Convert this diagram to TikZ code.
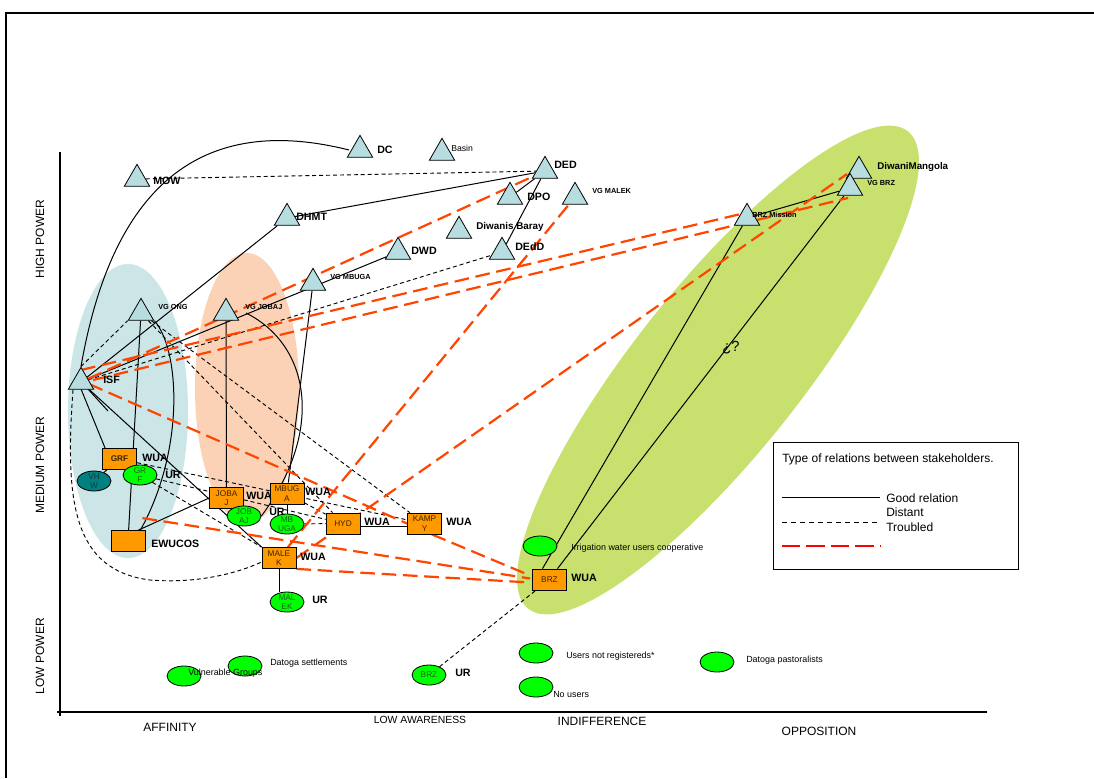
\documentclass[tikz,border=0pt]{standalone}
\usepackage{fontspec}
\setmainfont{Liberation Sans}
\usetikzlibrary{shapes.geometric,calc}
\pgfdeclarelayer{back}
\pgfdeclarelayer{lines}
\pgfsetlayers{back,lines,main}
\definecolor{tricol}{RGB}{183,221,224}
\definecolor{boxcol}{RGB}{255,153,0}
\definecolor{gcol}{RGB}{0,255,0}
\definecolor{tealcol}{RGB}{0,128,128}
\definecolor{redl}{RGB}{255,69,0}
\definecolor{bluebg}{RGB}{204,230,232}
\definecolor{orangebg}{RGB}{251,210,182}
\definecolor{greenbg}{RGB}{200,224,110}
\definecolor{boxtxt}{RGB}{60,35,0}
\definecolor{elltxt}{RGB}{30,95,30}
\begin{document}
\begin{tikzpicture}[x=0.75pt,y=-0.75pt,
  tri/.style={regular polygon, regular polygon sides=3, draw=black, line width=0.6pt, fill=tricol, inner sep=0pt, minimum size=22pt},
  good/.style={draw=black, line width=0.75pt},
  distant/.style={draw=black, line width=0.7pt, dash pattern=on 3pt off 2.2pt},
  troubled/.style={draw=redl, line width=1.65pt, dash pattern=on 11pt off 5pt},
  lbl/.style={font=\fontsize{8}{9.6}\selectfont\bfseries, anchor=west, inner sep=0pt},
  slbl/.style={font=\fontsize{5.5}{6.6}\selectfont\bfseries, anchor=west, inner sep=0pt},
  tlbl/.style={font=\fontsize{6.7}{8}\selectfont, anchor=west, inner sep=0pt},
  lglbl/.style={font=\fontsize{9}{10.8}\selectfont, anchor=west, inner sep=0pt},
  box/.style={rectangle, draw=black, line width=0.6pt, fill=boxcol, minimum width=25.5pt, minimum height=15.75pt, inner sep=0pt, font=\fontsize{6.2}{7}\selectfont, text=boxtxt, align=center},
  gell/.style={ellipse, draw=black, line width=0.6pt, fill=gcol, minimum width=25.5pt, minimum height=15pt, inner sep=0pt},
  etext/.style={font=\fontsize{6.2}{7}\selectfont, text=elltxt, align=center, inner sep=0pt},
  axl/.style={font=\fontsize{9}{10.8}\selectfont, inner sep=0pt}
]
\useasboundingbox (0,0) rectangle (1094,778);
\begin{pgfonlayer}{back}
\fill[white] (0,0) rectangle (1094,778);
\fill[bluebg] (128,411) ellipse [x radius=45pt, y radius=110.25pt];
\fill[orangebg] (247,388) ellipse [x radius=39pt, y radius=101.25pt];
\fill[greenbg, rotate around={51.5:(718,370)}] (718,370) ellipse [x radius=228.75pt, y radius=63pt];
\draw[line width=1.6pt] (6,778) -- (6,13) -- (1094,13);
\draw[line width=0.8pt] (60,152) -- (60,716);
\draw[line width=0.8pt] (57,712) -- (987,712);
\end{pgfonlayer}

% triangles
\node[tri] (MOW) at (137,179) {};
\node[tri] (DC) at (360,150) {};
\node[tri] (Basin) at (442,153) {};
\node[tri] (DED) at (545,171) {};
\node[tri] (DPO) at (510,197) {};
\node[tri] (VGMALEK) at (575,197) {};
\node[tri] (DHMT) at (287,218) {};
\node[tri] (DIWB) at (459,231) {};
\node[tri] (DWD) at (398,252) {};
\node[tri] (DEdD) at (502,252) {};
\node[tri] (VGMBUGA) at (313,283) {};
\node[tri] (VGONG) at (141,313) {};
\node[tri] (VGJOBAJ) at (226,313) {};
\node[tri] (ISF) at (81,382) {};
\node[tri] (DIWM) at (859,171) {};
\node[tri] (VGBRZ) at (850,188) {};
\node[tri] (BRZM) at (747,218) {};

% triangle labels
\node[lbl] (tMOW) at (153,181) {MOW};
\node[lbl] (tDC) at (377,150) {DC};
\node[tlbl, font=\fontsize{6.5}{7.8}\selectfont] (tBasin) at (451,148) {Basin};
\node[lbl] (tDED) at (554,165) {DED};
\node[lbl] (tDPO) at (527,197) {DPO};
\node[slbl] (tVGMALEK) at (592,191) {VG MALEK};
\node[lbl] (tDHMT) at (296,217) {DHMT};
\node[lbl, font=\fontsize{7.4}{8.8}\selectfont\bfseries] (tDIWB) at (476,227) {Diwanis Baray};
\node[lbl] (tDWD) at (411,251) {DWD};
\node[lbl] (tDEdD) at (515,247) {DEdD};
\node[slbl] (tVGMBUGA) at (330,277) {VG MBUGA};
\node[slbl] (tVGONG) at (158,307) {VG ONG};
\node[slbl] (tVGJOBAJ) at (245,307) {VG JOBAJ};
\node[lbl] (tISF) at (103,380) {ISF};
\node[lbl, font=\fontsize{7.3}{8.8}\selectfont\bfseries] (tDIWM) at (877,167) {DiwaniMangola};
\node[slbl] (tVGBRZ) at (867,183) {VG BRZ};
\node[slbl] (tBRZM) at (752,215) {BRZ Mission};

% boxes
\node[box, font=\fontsize{6.2}{7}\selectfont\bfseries] (GRF) at (119.5,459) {GRF};
\node[box] (EWUCOS) at (128,541) {};
\node[box] (JOBAJ) at (226.5,498) {JOBA\\J};
\node[box] (MBUGA) at (287,493.5) {MBUG\\A};
\node[box] (HYD) at (343,523.5) {HYD};
\node[box] (KAMPY) at (424.5,523.5) {KAMP\\Y};
\node[box] (MALEK) at (279,558) {MALE\\K};
\node[box] (BRZ) at (549.5,579.5) {BRZ};

% ellipses
\node[gell, fill=tealcol] (VHW) at (94,481) {};
\node[etext, text={rgb,255:red,15;green,60;blue,60}] (tVHW) at (VHW) {VH\\W};
\node[gell] (GRFe) at (140,475) {};
\node[etext] (tGRFe) at (GRFe) {GR\\F};
\node[gell] (JOBAJe) at (244,516) {};
\node[etext] (tJOBAJe) at (JOBAJe) {JOB\\AJ};
\node[gell] (MBUGAe) at (287,524) {};
\node[etext] (tMBUGAe) at (MBUGAe) {MB\\UGA};
\node[gell] (MALEKe) at (287,602) {};
\node[etext] (tMALEKe) at (MALEKe) {MAL\\EK};
\node[gell] (IRR) at (540,546) {};
\node[gell] (UNR) at (536,653) {};
\node[gell] (NOU) at (536,687) {};
\node[gell] (DATP) at (717,662) {};
\node[gell] (VULN) at (184,676) {};
\node[gell] (DATS) at (245,666) {};
\node[gell] (BRZe) at (429,675) {};
\node[etext] (tBRZe) at (BRZe) {BRZ};

% labels near boxes / ellipses
\node[lbl] (wGRF) at (142,458) {WUA};
\node[lbl] (uGRF) at (165,475) {UR};
\node[lbl] (tEWUCOS) at (151,544) {EWUCOS};
\node[lbl] (wJOBAJ) at (246,496) {WUA};
\node[lbl] (uJOBAJ) at (269,512) {UR};
\node[lbl] (wMBUGA) at (305,492) {WUA};
\node[lbl] (wHYD) at (364,522) {WUA};
\node[lbl] (wKAMPY) at (446,522) {WUA};
\node[lbl] (wMALEK) at (300,557) {WUA};
\node[lbl] (uMALEK) at (312,600) {UR};
\node[lbl] (wBRZ) at (571,578) {WUA};
\node[lbl] (uBRZ) at (455,673) {UR};
\node[tlbl] (tIRR) at (571,548) {Irrigation water users cooperative};
\node[tlbl] (tUNR) at (566,656) {Users not registereds*};
\node[tlbl] (tNOU) at (553,694) {No users};
\node[tlbl] (tDATP) at (746,660) {Datoga pastoralists};
\node[tlbl] (tVULN) at (188,673) {Vulnerable Groups};
\node[tlbl] (tDATS) at (270,663) {Datoga settlements};
\node[font=\fontsize{11}{13}\selectfont, inner sep=0pt] (qm) at (731,348) {¿?};

% axis labels
\node[axl, rotate=90] (hp) at (40,239) {HIGH POWER};
\node[axl, rotate=90] (mp) at (40,465) {MEDIUM POWER};
\node[axl, rotate=90] (lp) at (40,656) {LOW POWER};
\node[axl] (aff) at (170,727) {AFFINITY};
\node[axl, font=\fontsize{7.8}{9}\selectfont] (law) at (420,720) {LOW AWARENESS};
\node[axl] (ind) at (602,721) {INDIFFERENCE};
\node[axl] (opp) at (819,731) {OPPOSITION};

% legend
\node[draw=black, line width=1.1pt, fill=white, minimum width=183.75pt, minimum height=95.25pt, inner sep=0pt, anchor=north west] (legend) at (773,442) {};
\node[lglbl] (lgt) at (782,459) {Type of relations between stakeholders.};
\coordinate (lg1a) at (782,497); \coordinate (lg1b) at (880,497);
\coordinate (lg2a) at (782,522); \coordinate (lg2b) at (880,522);
\coordinate (lg3a) at (782,546); \coordinate (lg3b) at (880,546);
\draw[line width=0.75pt] (lg1a) -- (lg1b);
\draw[line width=0.6pt, dash pattern=on 3.75pt off 3pt] (lg2a) -- (lg2b);
\draw[red, line width=1.6pt, dash pattern=on 13.75pt off 4.6pt] (lg3a) -- (lg3b);
\node[lglbl] (lg1t) at (886,498) {Good relation};
\node[lglbl] (lg2t) at (886,512) {Distant};
\node[lglbl] (lg3t) at (886,527) {Troubled};

% connectors
\begin{pgfonlayer}{lines}
% good relations
\draw[good] (ISF.corner 1) .. controls (110,200) and (190,110) .. ($(DC)+(-11,0)$);
\draw[good] (ISF) -- (DHMT);
\draw[good] (DHMT) -- (DED);
\draw[good] (DPO) -- (DED);
\draw[good] (DEdD) -- (DED);
\draw[good] (ISF) -- (DWD);
\draw[good] ($(ISF)+(0,7)$) -- ($(GRF.north west)+(3,0)$);
\coordinate (stub) at (108,411);
\draw[good] ($(ISF)+(6,6)$) -- (stub);
\draw[good] (ISF) -- (MALEK.north west);
\draw[good] (GRF) -- (VHW);
\draw[good] (GRF) -- (GRFe);
\draw[good] (VGONG) -- (EWUCOS);
\draw[good] (VGONG.corner 3) .. controls (180,350) and (185,450) .. ($(EWUCOS.north east)+(-5,0)$);
\draw[good] ($(EWUCOS.north east)+(-7,0)$) -- (JOBAJ.west);
\draw[good] (VGJOBAJ) -- (JOBAJ);
\draw[good] ($(VGJOBAJ)+(20,0)$) .. controls (310,345) and (325,430) .. (JOBAJe.east);
\draw[good] (VGMBUGA) -- (MBUGA);
\draw[good] (MBUGA) -- (MBUGAe);
\draw[good] (MALEK.south) -- (MALEK.south |- MALEKe.north);
\draw[good] ($(HYD.east)+(0,3)$) -- ($(KAMPY.west)+(0,3)$);
\draw[good] ($(BRZ.north)+(-7,0)$) -- (BRZM);
\draw[good] ($(BRZ.north)+(8,0)$) -- (VGBRZ);
\draw[good] (BRZM) -- (VGBRZ);
% distant
\draw[distant] (MOW) -- (DED);
\draw[distant] (ISF) -- (DEdD);
\draw[distant] (ISF.corner 1) -- (VGONG.corner 2);
\draw[distant] ($(ISF)+(-8,8)$) .. controls (65,500) and (72,570) .. (150,580) .. controls (200,584) and (240,572) .. ($(MALEK.west)+(0,4)$);
\draw[distant] (GRFe) -- (MALEK.north west);
\draw[distant] (GRF) -- (KAMPY);
\draw[distant] (GRFe) -- (HYD);
\draw[distant] (MBUGA) -- (HYD);
\draw[distant] (MBUGAe) -- (HYD);
\draw[distant] (VGONG) -- (KAMPY);
\draw[distant] (VGONG) -- (HYD);
\draw[distant] (BRZe) -- (BRZ);
% troubled
\draw[troubled] (ISF) -- (DED);
\draw[troubled] ($(ISF)+(0,-12)$) -- ($(BRZM)+(-2,-5)$);
\draw[troubled] ($(ISF)+(12,-2)$) -- ($(VGBRZ)+(-2,10)$);
\draw[troubled] ($(ISF)+(8,2)$) -- (KAMPY.west);
\draw[troubled] ($(EWUCOS.north east)+(-3,-12)$) -- ($(BRZ.west)+(-2,-1)$);
\draw[troubled] (MALEK.south east) -- ($(BRZ.west)+(-2,3)$);
\draw[troubled] ($(KAMPY.south east)+(-10,0)$) -- ($(BRZ.west)+(-2,-4)$);
\draw[troubled] (MALEK) -- (VGMALEK);
\draw[troubled] (MALEK.east) -- ($(DIWM)+(-12,3)$);
\end{pgfonlayer}
\end{tikzpicture}
\end{document}
